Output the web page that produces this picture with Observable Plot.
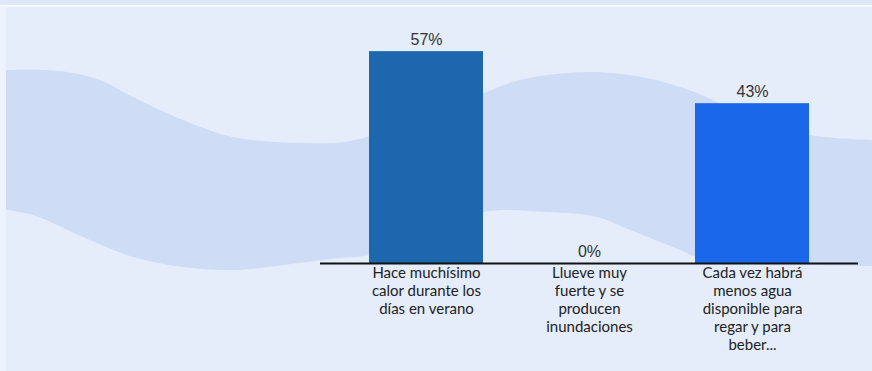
<!DOCTYPE html>
<html>
<head>
<meta charset="utf-8">
<script src="https://cdn.jsdelivr.net/npm/d3@7"></script>
<script src="https://cdn.jsdelivr.net/npm/@observablehq/plot@0.6"></script>
<style>
  html, body { margin: 0; padding: 0; background: #e5edfb; }
  #wrap { position: relative; width: 872px; height: 371px; overflow: hidden; }
  #bg, #chart { position: absolute; left: 0; top: 0; }
  #chart svg { background: transparent; }
</style>
</head>
<body>
<div id="wrap">
  <svg id="bg" width="872" height="371"></svg>
  <div id="chart"></div>
</div>
<script>
// Data
const categories = [
  "Hace muchísimo\ncalor durante los\ndías en verano",
  "Llueve muy\nfuerte y se\nproducen\ninundaciones",
  "Cada vez habrá\nmenos agua\ndisponible para\nregar y para\nbeber..."
];
const values = [57, 0, 43];
const barColors = ["#1c67ad", "#1b67ea", "#1b67ea"];
const valueLabels = ["57%", "0%", "43%"];

const data = categories.map((c, i) => ({cat: c, value: values[i], color: barColors[i], label: valueLabels[i]}));

// Decorative background waves
const bg = d3.select("#bg");
bg.append("rect").attr("x", 0).attr("y", 0).attr("width", 872).attr("height", 5).attr("fill", "#dfe7f8");
bg.append("rect").attr("x", 0).attr("y", 5).attr("width", 872).attr("height", 1.5).attr("fill", "#ffffff");
const topEdge = [[6,70],[60,71],[100,80],[133,97],[183,120],[233,137],[300,143],[350,141],[410,122],[484,93],[513,82],[547,75],[597,72],[647,78],[697,93],[750,118],[810,135],[872,140]];
const bottomEdge = [[872,266],[810,265],[740,262],[697,257],[680,250],[630,230],[597,217],[547,212],[484,212],[430,235],[370,255],[340,258],[300,263],[233,270],[183,267],[133,257],[83,237],[33,215],[6,210]];
const lineGen = d3.line().curve(d3.curveCatmullRom.alpha(0.5));
bg.append("path")
  .attr("d", lineGen(topEdge) + "L" + lineGen(bottomEdge).slice(1) + "Z")
  .attr("fill", "#cedcf6");
bg.append("rect").attr("x", 0).attr("y", 6).attr("width", 6).attr("height", 365).attr("fill", "#edf2fc");

const chart = Plot.plot({
  width: 872,
  height: 371,
  marginLeft: 320,
  marginRight: 14,
  marginTop: 40,
  marginBottom: 108,
  style: {background: "transparent", fontFamily: "Lato, 'Liberation Sans', sans-serif"},
  x: {domain: categories, padding: 0.3, axis: null},
  y: {domain: [0, 60], axis: null},
  marks: [
    Plot.barY(data, {x: "cat", y: "value", fill: "color"}),
    Plot.ruleY([0], {stroke: "#111", strokeWidth: 2}),
    Plot.text(data, {x: "cat", y: "value", text: "label", dy: -12, fontSize: 16, fill: "#333", fontFamily: "'Liberation Sans', Arial, sans-serif"}),
    Plot.text(data, {x: "cat", y: 0, text: "cat", lineAnchor: "top", dy: 2, fontSize: 15, lineHeight: 1.2, fill: "#222"})
  ]
});
document.getElementById("chart").appendChild(chart);
</script>
</body>
</html>
